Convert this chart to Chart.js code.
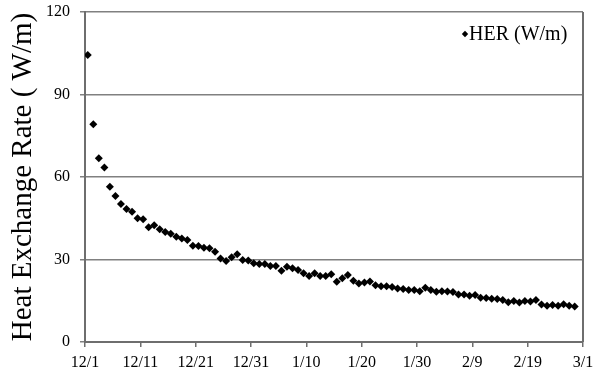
<!DOCTYPE html>
<html>
<head>
<meta charset="utf-8">
<script src="https://cdn.jsdelivr.net/npm/chart.js@4/dist/chart.umd.min.js"></script>
<style>
  html, body { margin: 0; padding: 0; background: #fff; }
  #wrap { width: 602px; height: 380px; position: relative; }
</style>
</head>
<body>
<div id="wrap"><canvas id="c" width="602" height="380"></canvas></div>
<script>
// Tick labels on the date axis (every 10 days from 12/1)
const tickLabels = ['12/1', '12/11', '12/21', '12/31', '1/10', '1/20', '1/30', '2/9', '2/19', '3/1'];
const tickDays = [0, 10, 20, 30, 40, 50, 60, 70, 80, 90];
// Daily heat exchange rate (W/m), 12/1 .. 2/27
const herValues = [
  104.4, 79.2, 66.8, 63.5, 56.5, 53.1, 50.2, 48.4, 47.4, 45.0,
  44.6, 41.7, 42.5, 41.0, 40.0, 39.4, 38.3, 37.6, 37.1, 35.0,
  34.9, 34.3, 34.1, 32.8, 30.4, 29.5, 30.8, 31.9, 29.8, 29.6,
  28.6, 28.4, 28.4, 27.6, 27.6, 25.9, 27.4, 26.8, 26.2, 25.0,
  24.0, 25.0, 24.0, 24.0, 24.6, 21.9, 23.2, 24.4, 22.3, 21.3,
  21.6, 22.0, 20.6, 20.3, 20.3, 20.0, 19.5, 19.3, 18.9, 18.9,
  18.5, 19.7, 18.9, 18.3, 18.5, 18.4, 18.2, 17.3, 17.3, 16.8,
  17.1, 16.1, 16.0, 15.7, 15.6, 15.3, 14.5, 14.9, 14.4, 14.9,
  14.7, 15.3, 13.6, 13.2, 13.5, 13.2, 13.7, 13.2, 12.9
];
const seriesLabel = 'HER (W/m)';
const yTitle = 'Heat Exchange Rate ( W/m)';

// Each daily value is plotted at mid-day
const points = herValues.map((v, i) => ({ x: i + 0.5, y: v }));

const SERIF = "'Liberation Serif', 'Times New Roman', serif";

const frameAndLegend = {
  id: 'frameAndLegend',
  afterDraw(chart) {
    const { ctx, chartArea } = chart;
    ctx.save();
    // right border of the plot
    ctx.strokeStyle = '#6e6e6e';
    ctx.lineWidth = 2;
    ctx.beginPath();
    ctx.moveTo(chartArea.right, chartArea.top);
    ctx.lineTo(chartArea.right, chartArea.bottom);
    ctx.stroke();
    // legend
    const lx = chartArea.right - 118;
    const ly = chartArea.top + 22;
    ctx.fillStyle = '#000';
    ctx.beginPath();
    ctx.moveTo(lx, ly - 3.2);
    ctx.lineTo(lx + 3.2, ly);
    ctx.lineTo(lx, ly + 3.2);
    ctx.lineTo(lx - 3.2, ly);
    ctx.closePath();
    ctx.fill();
    ctx.font = '20px ' + SERIF;
    ctx.textBaseline = 'middle';
    ctx.textAlign = 'left';
    ctx.fillText(chart.data.datasets[0].label, lx + 4, ly + 1);
    ctx.restore();
  }
};

new Chart(document.getElementById('c'), {
  type: 'scatter',
  data: {
    datasets: [{
      label: seriesLabel,
      data: points,
      pointStyle: 'rectRot',
      pointRadius: 4,
      pointHoverRadius: 4,
      pointBackgroundColor: '#000',
      pointBorderColor: '#000',
      pointBorderWidth: 0,
      showLine: false
    }]
  },
  options: {
    responsive: false,
    animation: false,
    devicePixelRatio: 1,
    layout: { padding: { left: 0, right: 19, top: 12, bottom: 0 } },
    plugins: {
      legend: { display: false },
      tooltip: { enabled: false },
      title: { display: false }
    },
    scales: {
      x: {
        type: 'linear',
        min: 0,
        max: 90,
        afterBuildTicks(scale) {
          scale.ticks = tickDays.map(v => ({ value: v }));
        },
        afterFit(scale) {
          scale.height = 38;
          scale.paddingLeft = 0;
          scale.paddingRight = 0;
        },
        ticks: {
          autoSkip: false,
          maxRotation: 0,
          color: '#000',
          padding: 6,
          font: { family: SERIF, size: 16 },
          callback(value) {
            const i = tickDays.indexOf(value);
            return i >= 0 ? tickLabels[i] : '';
          }
        },
        grid: {
          drawOnChartArea: false,
          drawTicks: true,
          tickLength: 5,
          color: '#6e6e6e',
          lineWidth: 1.5
        },
        border: { display: true, color: '#6e6e6e', width: 2 }
      },
      y: {
        min: 0,
        max: 120,
        ticks: {
          stepSize: 30,
          color: '#000',
          padding: 10,
          font: { family: SERIF, size: 16 }
        },
        afterFit(scale) {
          scale.width = 85;
          scale.paddingTop = 0;
          scale.paddingBottom = 0;
        },
        grid: {
          drawOnChartArea: true,
          drawTicks: true,
          tickLength: 5,
          color: '#808080',
          lineWidth: 1.5
        },
        border: { display: true, color: '#6e6e6e', width: 2 },
        title: {
          display: true,
          text: yTitle,
          color: '#000',
          padding: { top: 9, bottom: 0 },
          font: { family: SERIF, size: 29, lineHeight: 1 }
        }
      }
    }
  },
  plugins: [frameAndLegend]
});
</script>
</body>
</html>
